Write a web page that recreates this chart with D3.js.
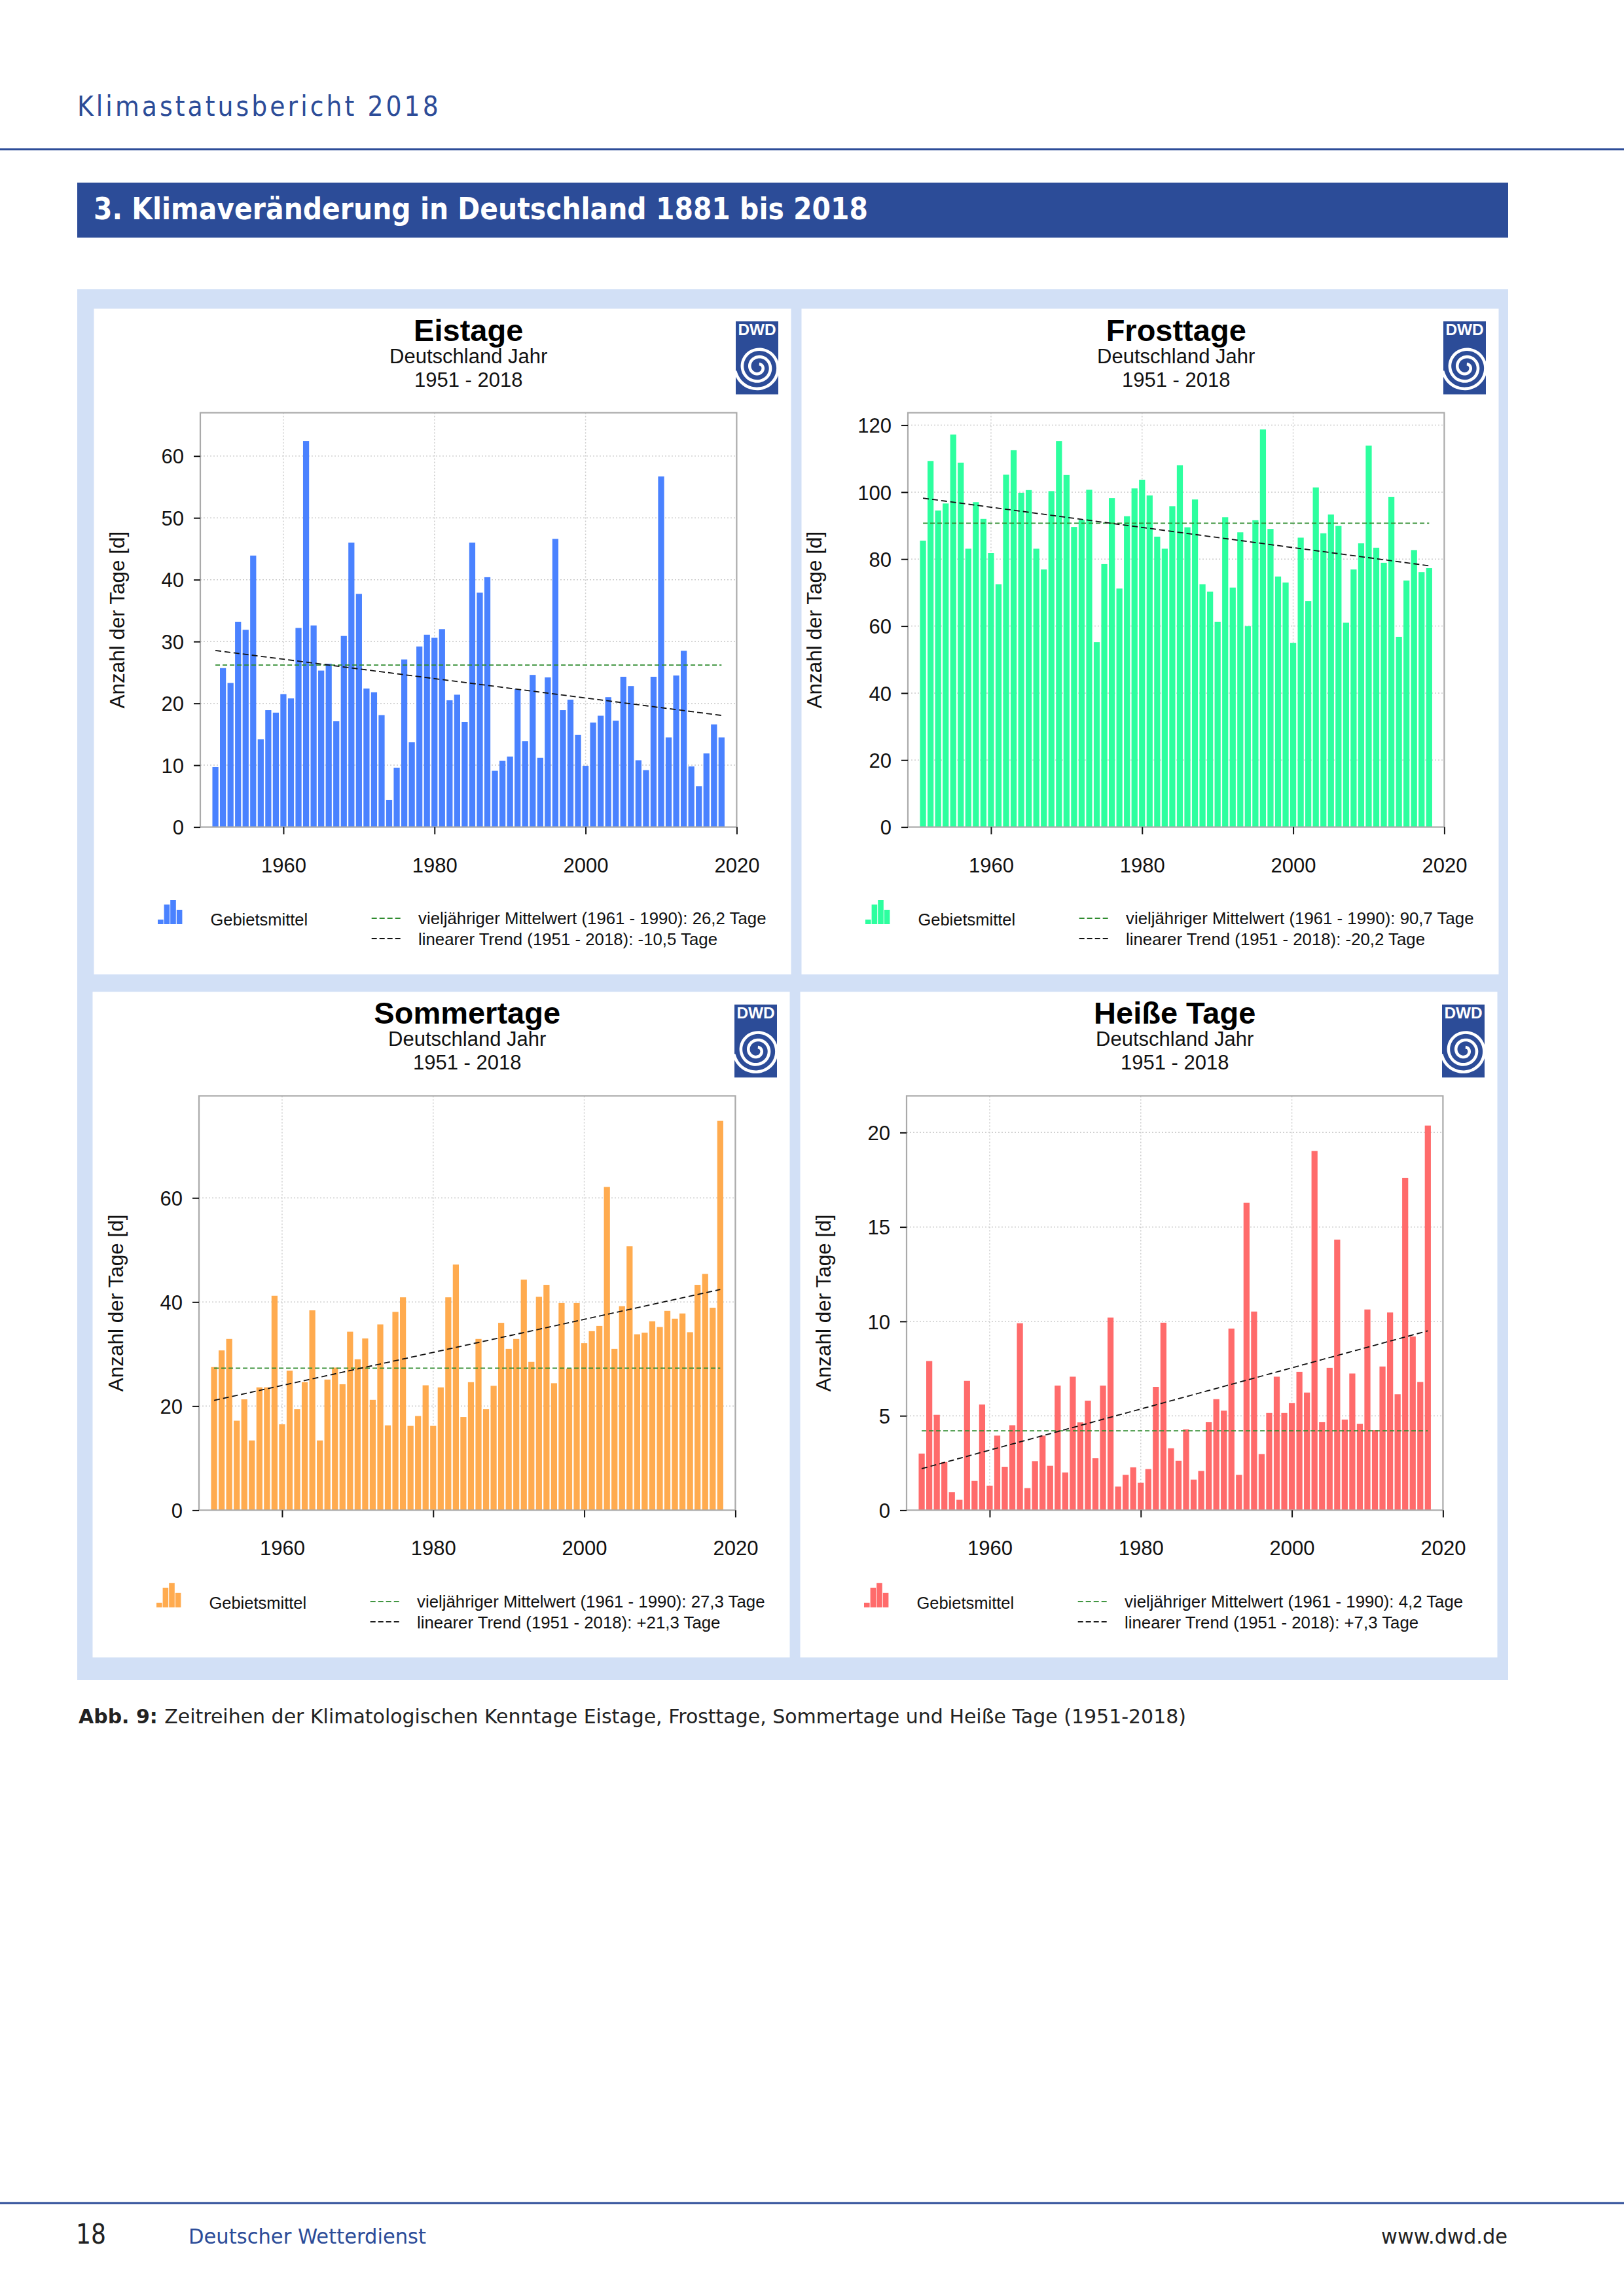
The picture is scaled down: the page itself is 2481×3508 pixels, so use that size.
<!DOCTYPE html>
<html>
<head>
<meta charset="utf-8">
<title>Klimastatusbericht 2018</title>
<script src="https://cdn.jsdelivr.net/npm/d3@7"></script>
<style>
  body { margin: 0; background: #fff; }
  svg { display: block; }
</style>
</head>
<body>
<svg id="page"></svg>
<script>
const years = d3.range(1951, 2019);

const eistage = [9.7, 25.7, 23.3, 33.2, 31.9, 43.9, 14.2, 18.9, 18.5, 21.5, 20.8, 32.2, 62.4, 32.6, 25.3, 26.4, 17.1, 30.9, 46.0, 37.7, 22.4, 21.8, 18.1, 4.4, 9.6, 27.1, 13.7, 29.2, 31.1, 30.6, 32.0, 20.5, 21.4, 17.0, 46.0, 37.9, 40.4, 9.1, 10.7, 11.4, 22.3, 13.9, 24.6, 11.2, 24.2, 46.6, 18.9, 20.6, 14.9, 9.9, 16.9, 18.0, 21.0, 17.2, 24.3, 22.8, 10.8, 9.2, 24.3, 56.7, 14.5, 24.5, 28.5, 9.8, 6.6, 11.9, 16.6, 14.5];
const frosttage = [85.5, 109.3, 94.5, 96.6, 117.2, 108.8, 83.1, 97, 92, 81.8, 72.5, 105.2, 112.5, 99.8, 100.6, 83.1, 76.9, 100.3, 115.2, 105.1, 89.6, 91.7, 100.7, 55.2, 78.5, 98.2, 71.2, 92.8, 101.1, 103.7, 99, 86.7, 83.1, 95.8, 108, 89.5, 97.8, 72.5, 70.3, 61.3, 92.5, 71.5, 88, 60, 91.6, 118.7, 89, 74.8, 73, 55, 86.4, 67.5, 101.4, 87.7, 93.3, 89.9, 61, 76.9, 84.7, 113.9, 83.4, 78.9, 98.6, 56.8, 73.6, 82.7, 76.1, 77.3];
const sommertage = [27.5, 30.7, 32.9, 17.2, 21.3, 13.4, 23.6, 23.6, 41.2, 16.5, 26.8, 19.4, 24.6, 38.4, 13.4, 25.1, 27.4, 24.2, 34.3, 29, 33, 21.2, 35.7, 16.3, 38.1, 40.9, 16.2, 18.1, 24, 16.2, 23.6, 40.9, 47.2, 17.9, 24.6, 32.9, 19.4, 23.9, 36, 31, 32.9, 44.3, 28.5, 41, 43.3, 24.4, 39.8, 27.2, 39.8, 32.1, 34.4, 35.4, 62.1, 31, 39.2, 50.7, 33.8, 34.1, 36.3, 35.2, 38.3, 36.8, 37.8, 34.2, 43.3, 45.4, 38.9, 74.8];
const heisseTage = [3.0, 7.9, 5.05, 2.55, 0.95, 0.55, 6.85, 1.55, 5.6, 1.3, 3.95, 2.3, 4.5, 9.9, 1.17, 2.6, 3.95, 2.35, 6.6, 2.0, 7.07, 4.65, 5.8, 2.75, 6.6, 10.2, 1.25, 1.87, 2.27, 1.45, 2.18, 6.53, 9.93, 3.28, 2.62, 4.28, 1.62, 2.08, 4.66, 5.88, 5.27, 9.62, 1.87, 16.28, 10.52, 2.97, 5.15, 7.07, 5.15, 5.67, 7.33, 6.23, 19.02, 4.66, 7.54, 14.33, 4.8, 7.24, 4.57, 10.63, 4.24, 7.61, 10.47, 6.14, 17.59, 9.2, 6.79, 20.37];

const xTicks = [1960, 1980, 2000, 2020];
const eisTicks = [0, 10, 20, 30, 40, 50, 60];
const frostTicks = [0, 20, 40, 60, 80, 100, 120];
const sommerTicks = [0, 20, 40, 60];
const heissTicks = [0, 5, 10, 15, 20];

const eisTrend = [28.55, 18.05];
const frostTrend = [98.2, 78.0];
const sommerTrend = [21.1, 42.4];
const heissTrend = [2.2, 9.5];

const legendIcon = [7, 30, 37, 22];

const blue = "#2c4c98";
const helv = "'Liberation Sans', Arial, sans-serif";
const dejavu = "'DejaVu Sans', sans-serif";

const plotW = 819.4;
const plotH = 633;

const panels = [
    { title: "Eistage", values: eistage, ticks: eisTicks, top: 67, mean: 26.2, trend: eisTrend, color: "#4a82ff",
      left: 306, y0: 630.6, titleX: -116, meanText: "26,2 Tage", trendText: "-10,5 Tage" },
    { title: "Frosttage", values: frosttage, ticks: frostTicks, top: 123.7, mean: 90.7, trend: frostTrend, color: "#2dff9f",
      left: 1387, y0: 630.6, titleX: -132, meanText: "90,7 Tage", trendText: "-20,2 Tage" },
    { title: "Sommertage", values: sommertage, ticks: sommerTicks, top: 79.6, mean: 27.3, trend: sommerTrend, color: "#ffab4f",
      left: 304, y0: 1674.4, titleX: -116, meanText: "27,3 Tage", trendText: "+21,3 Tage" },
    { title: "Heiße Tage", values: heisseTage, ticks: heissTicks, top: 21.94, mean: 4.2, trend: heissTrend, color: "#ff6b6b",
      left: 1385, y0: 1674.4, titleX: -116, meanText: "4,2 Tage", trendText: "+7,3 Tage" }
];

const svg = d3.select("#page").attr("width", 2481).attr("height", 3508).attr("viewBox", [0, 0, 2481, 3508]);

function label(parent, x, y, str, size, font, fill) {
    return parent.append("text")
        .attr("x", x).attr("y", y)
        .attr("font-family", font).attr("font-size", size).attr("fill", fill)
        .text(str);
}

// page frame
svg.append("rect").attr("x", 0).attr("y", 226.5).attr("width", 2481).attr("height", 3).attr("fill", blue);
label(svg, 0, 0, "Klimastatusbericht 2018", 42, dejavu, blue)
    .attr("transform", "translate(118,177) scale(0.9,1)")
    .attr("textLength", 613).attr("lengthAdjust", "spacing");
svg.append("rect").attr("x", 118).attr("y", 279).attr("width", 2186).attr("height", 84).attr("fill", blue);
label(svg, 143, 335, "3. Klimaveränderung in Deutschland 1881 bis 2018", 46, dejavu, "#fff")
    .attr("font-weight", "bold").attr("textLength", 1183).attr("lengthAdjust", "spacingAndGlyphs");
svg.append("rect").attr("x", 118).attr("y", 442).attr("width", 2186).attr("height", 2125).attr("fill", "#d2e0f6");

const caption = label(svg, 120, 2633, "", 31, dejavu, "#222")
    .attr("textLength", 1692).attr("lengthAdjust", "spacingAndGlyphs");
caption.append("tspan").attr("font-weight", "bold").text("Abb. 9: ");
caption.append("tspan").text("Zeitreihen der Klimatologischen Kenntage Eistage, Frosttage, Sommertage und Heiße Tage (1951-2018)");

svg.append("rect").attr("x", 0).attr("y", 3364.5).attr("width", 2481).attr("height", 3).attr("fill", blue);
label(svg, 116, 3428, "18", 42, dejavu, "#222")
    .attr("textLength", 46).attr("lengthAdjust", "spacingAndGlyphs");
label(svg, 288, 3428, "Deutscher Wetterdienst", 32, dejavu, blue)
    .attr("textLength", 363).attr("lengthAdjust", "spacingAndGlyphs");
label(svg, 2110, 3428, "www.dwd.de", 32, dejavu, "#222")
    .attr("textLength", 193).attr("lengthAdjust", "spacingAndGlyphs");

const xScale = d3.scaleLinear().domain([1949, 2020]).range([0, plotW]);
const barW = xScale(1949.8) - xScale(1949);

panels.forEach((p, idx) => {
    const g = svg.append("g").attr("transform", `translate(${p.left},${p.y0})`);
    const yScale = d3.scaleLinear().domain([0, p.top]).range([plotH, 0]);

    g.append("rect").attr("x", -162.5).attr("y", -159).attr("width", 1065).attr("height", 1017).attr("fill", "#fff");

    // grid behind the bars
    g.append("g").selectAll("line").data(p.ticks.slice(1)).join("line")
        .attr("x1", 0).attr("x2", plotW)
        .attr("y1", d => yScale(d)).attr("y2", d => yScale(d))
        .attr("stroke", "#ccc").attr("stroke-width", 1.5).attr("stroke-dasharray", "2,3");
    g.append("g").selectAll("line").data(xTicks.slice(0, 3)).join("line")
        .attr("x1", d => xScale(d)).attr("x2", d => xScale(d))
        .attr("y1", 0).attr("y2", plotH)
        .attr("stroke", "#ccc").attr("stroke-width", 1.5).attr("stroke-dasharray", "2,3");

    g.append("g").selectAll("rect").data(p.values).join("rect")
        .attr("x", (d, i) => xScale(years[i]) - barW / 2)
        .attr("y", d => yScale(d))
        .attr("width", barW)
        .attr("height", d => plotH - yScale(d))
        .attr("fill", p.color);

    g.append("line")
        .attr("x1", xScale(1951)).attr("x2", xScale(2018))
        .attr("y1", yScale(p.mean)).attr("y2", yScale(p.mean))
        .attr("stroke", "#2e8b2e").attr("stroke-width", 1.8).attr("stroke-dasharray", "7,4");
    g.append("line")
        .attr("x1", xScale(1951)).attr("x2", xScale(2018))
        .attr("y1", yScale(p.trend[0])).attr("y2", yScale(p.trend[1]))
        .attr("stroke", "#111").attr("stroke-width", 1.8).attr("stroke-dasharray", "9,5");

    g.append("rect").attr("width", plotW).attr("height", plotH)
        .attr("fill", "none").attr("stroke", "#aaa").attr("stroke-width", 2.2);

    const yAxis = g.append("g")
        .call(d3.axisLeft(yScale).tickValues(p.ticks).tickSize(10).tickPadding(15).tickFormat(d3.format("d")));
    const xAxis = g.append("g").attr("transform", `translate(0,${plotH})`)
        .call(d3.axisBottom(xScale).tickValues(xTicks).tickSize(11).tickPadding(36).tickFormat(d3.format("d")));
    [yAxis, xAxis].forEach(a => {
        a.select(".domain").remove();
        a.selectAll(".tick line").attr("stroke", "#111").attr("stroke-width", 2);
        a.selectAll(".tick text").attr("font-family", helv).attr("font-size", 31).attr("fill", "#111");
    });
    yAxis.selectAll(".tick text").attr("dy", "0.36em");

    label(g, 0, 0, "Anzahl der Tage [d]", 31.5, helv, "#111")
        .attr("text-anchor", "middle")
        .attr("transform", `translate(${p.titleX},${plotH / 2}) rotate(-90)`);

    const cx = plotW / 2;
    label(g, cx, -110, p.title, 47, helv, "#000").attr("text-anchor", "middle").attr("font-weight", "bold");
    label(g, cx, -76, "Deutschland Jahr", 31, helv, "#111").attr("text-anchor", "middle");
    label(g, cx, -40, "1951 - 2018", 31, helv, "#111").attr("text-anchor", "middle");

    // DWD logo
    const logo = g.append("g").attr("transform", "translate(818,-139.6)");
    logo.append("clipPath").attr("id", `logoclip${idx}`)
        .append("rect").attr("width", 65).attr("height", 111.5);
    logo.append("rect").attr("width", 65).attr("height", 111.5).attr("fill", blue);
    label(logo, 32.5, 21.5, "DWD", 24.4, helv, "#fff").attr("text-anchor", "middle").attr("font-weight", "bold");
    const end = 3.5 * Math.PI + 4 * Math.PI;
    const spiral = d3.lineRadial()
        .angle(t => t)
        .radius(t => 36 - 11.5 * (end - t) / (2 * Math.PI))
        .curve(d3.curveBasis);
    logo.append("g").attr("clip-path", `url(#logoclip${idx})`)
        .append("path")
        .attr("transform", "translate(34.3,70)")
        .attr("d", spiral(d3.range(end - 2.7 * 2 * Math.PI, end, 0.2)))
        .attr("fill", "none").attr("stroke", "#fff").attr("stroke-width", 4.6);

    // legend
    const leg = g.append("g").attr("transform", `translate(0,${781.4})`);
    leg.selectAll("rect").data(legendIcon).join("rect")
        .attr("x", (d, i) => -65 + i * 9.6)
        .attr("y", d => -d)
        .attr("width", 8.6)
        .attr("height", d => d)
        .attr("fill", p.color);
    label(leg, 15.4, 2, "Gebietsmittel", 25.5, helv, "#111");
    leg.append("line").attr("x1", 261.7).attr("x2", 306.6).attr("y1", -9).attr("y2", -9)
        .attr("stroke", "#2e8b2e").attr("stroke-width", 1.8).attr("stroke-dasharray", "8,4");
    leg.append("line").attr("x1", 261.7).attr("x2", 306.6).attr("y1", 22).attr("y2", 22)
        .attr("stroke", "#111").attr("stroke-width", 1.8).attr("stroke-dasharray", "8,4");
    label(leg, 333, 0, `vieljähriger Mittelwert (1961 - 1990): ${p.meanText}`, 25.8, helv, "#111");
    label(leg, 333, 32, `linearer Trend (1951 - 2018): ${p.trendText}`, 25.8, helv, "#111");
});
</script>
</body>
</html>
